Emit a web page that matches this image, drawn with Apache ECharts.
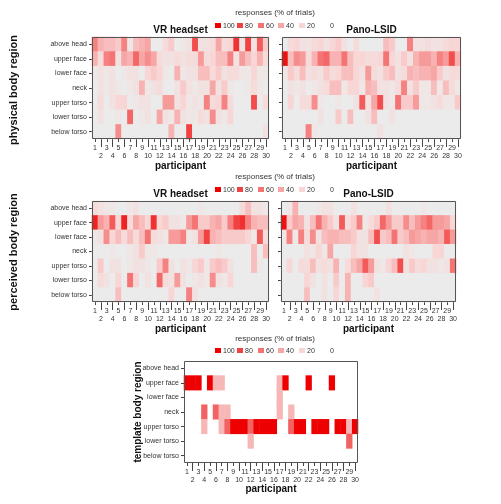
<!DOCTYPE html>
<html><head><meta charset="utf-8">
<script src="https://cdn.jsdelivr.net/npm/echarts@6/dist/echarts.min.js"></script>
<style>html,body{margin:0;padding:0;background:#fff}#c{width:501px;height:504px}</style>
</head><body><div id="c"></div>
<script>
const participants = ['1','2','3','4','5','6','7','8','9','10','11','12','13','14','15','16','17','18','19','20','21','22','23','24','25','26','27','28','29','30'];
const regions = ['above head','upper face','lower face','neck','upper torso','lower torso','below torso'];
const legendValues = [100,80,60,40,20,0];
const panelTitles = ['VR headset','Pano-LSID','VR headset','Pano-LSID'];
const yTitles = ['physical body region','perceived body region','template body region'];
const xTitle = 'participant';
const legendTitle = 'responses (% of trials)';

// physical body region, VR headset (rows: above head .. below torso, cols: participants 1..30)
const physVR = [
 [55,35,30,30,25,55,5,30,35,40,0,0,15,25,0,5,10,75,10,10,15,40,15,20,85,10,80,10,70,25],
 [35,15,55,60,10,40,35,65,40,50,40,15,10,10,15,10,15,15,45,15,20,30,30,55,10,45,30,20,35,15],
 [5,10,5,10,0,5,10,10,0,20,25,20,5,0,35,5,10,10,30,30,15,25,10,15,15,5,5,20,5,5],
 [0,10,5,10,5,0,5,10,35,5,10,15,0,0,10,25,10,5,10,10,40,10,25,5,0,0,5,15,5,0],
 [0,15,0,10,20,20,0,5,10,10,0,0,45,45,10,20,5,10,5,55,15,20,55,15,0,0,0,75,0,15],
 [0,10,0,0,5,0,65,0,5,10,0,40,10,5,35,10,5,5,15,10,50,10,5,20,0,0,0,0,0,0],
 [0,0,0,0,50,0,0,0,0,0,0,0,0,35,0,0,80,0,0,0,0,0,0,0,0,0,0,0,0,10]
];
// physical body region, Pano-LSID
const physPano = [
 [0,15,20,10,10,15,20,10,20,25,10,0,15,0,0,0,0,30,25,0,0,55,10,10,15,10,10,15,20,20],
 [95,30,50,45,15,35,60,65,35,35,60,30,20,20,15,15,20,60,20,10,25,10,35,45,45,35,55,45,75,35],
 [5,25,15,30,10,15,10,25,15,20,30,30,20,10,45,15,10,25,30,10,15,35,30,35,35,40,25,10,15,15],
 [0,10,5,10,0,5,10,15,30,30,5,20,20,5,35,30,10,10,5,15,55,10,25,5,5,30,5,30,15,5],
 [0,20,0,15,15,50,5,0,0,5,0,0,10,70,10,40,75,10,5,60,25,25,45,5,5,10,15,5,5,25],
 [0,0,0,0,0,0,10,0,0,25,0,30,0,0,10,30,0,0,10,0,0,0,0,0,0,0,0,0,0,0],
 [0,0,0,0,55,5,0,0,0,0,0,0,0,0,0,0,10,0,0,0,0,0,0,0,0,0,0,0,0,0]
];
// perceived body region, VR headset
const percVR = [
 [15,10,5,5,0,0,5,10,0,0,0,0,0,0,0,0,0,0,5,0,0,0,0,0,0,15,30,10,10,5],
 [90,45,35,70,20,90,15,40,30,20,85,20,25,10,10,5,45,60,25,25,35,40,25,55,80,85,55,35,30,30],
 [5,10,50,20,30,15,30,15,30,60,15,10,5,45,45,55,5,10,45,80,35,30,25,25,25,25,20,5,70,15],
 [0,0,0,5,0,0,5,10,25,5,5,0,0,0,0,0,0,0,0,0,0,5,0,0,0,0,0,30,0,30],
 [0,25,0,10,10,0,5,10,10,5,0,25,55,10,0,10,5,20,25,5,25,30,25,10,0,0,0,30,5,0],
 [0,15,10,0,20,0,60,20,0,10,0,65,15,10,45,10,0,5,10,5,50,10,5,20,0,0,0,0,0,0],
 [0,0,0,0,30,0,0,0,0,0,0,0,0,20,0,0,55,10,0,0,0,0,0,0,0,0,0,0,0,0]
];
// perceived body region, Pano-LSID
const percPano = [
 [0,5,35,0,0,0,5,10,10,0,0,0,10,0,0,0,0,0,10,0,0,0,0,0,5,0,0,0,0,0],
 [95,25,40,35,10,30,60,35,25,10,70,15,25,55,5,15,25,65,45,25,25,50,30,45,55,65,45,45,40,20],
 [5,55,5,55,15,50,10,30,35,35,30,30,25,10,10,30,75,25,30,60,25,30,45,40,35,40,40,35,70,45],
 [0,0,0,0,10,5,20,5,40,0,0,0,20,10,10,0,0,0,0,0,0,10,5,0,0,0,20,20,0,0],
 [0,20,0,15,15,30,10,15,10,35,0,15,30,40,70,45,10,5,20,30,75,10,25,15,20,10,10,5,10,60],
 [0,0,0,0,20,10,0,10,0,25,0,35,0,0,20,25,0,0,0,0,0,0,0,0,0,0,0,0,0,0],
 [0,0,0,0,30,0,0,10,0,20,0,35,0,0,0,0,10,0,0,0,0,0,0,0,0,0,0,0,0,0]
];
// template body region
const template = [
 [0,0,0,0,0,0,0,0,0,0,0,0,0,0,0,0,0,0,0,0,0,0,0,0,0,0,0,0,0,0],
 [100,100,100,0,100,33,33,0,0,0,0,0,0,0,0,0,33,100,0,0,0,100,0,0,0,100,0,0,0,0],
 [0,0,0,0,0,0,0,0,0,0,0,0,0,0,0,0,33,0,0,0,0,0,0,0,0,0,0,0,0,0],
 [0,0,0,67,0,67,33,33,0,0,0,0,0,0,0,0,33,0,33,0,0,0,0,0,0,0,0,0,0,0],
 [0,0,0,33,0,0,33,67,100,100,100,67,100,100,100,100,0,0,67,100,100,0,100,100,100,0,100,100,33,100],
 [0,0,0,0,0,0,0,0,0,0,0,33,0,0,0,0,0,0,0,0,0,0,0,0,0,0,0,0,67,0],
 [0,0,0,0,0,0,0,0,0,0,0,0,0,0,0,0,0,0,0,0,0,0,0,0,0,0,0,0,0,0]
];

const FONT = '"Liberation Sans", Arial, sans-serif';
const scaleColors = ['#ebebeb','#f9d6d6','#f7a6a6','#f47474','#f14141','#ee0000'];
const swatchColors = ['#ee0000','#f14141','#f47474','#f7a6a6','#f9d6d6',null];
const layouts = [
  {left:92, top:37, width:177, height:102, bg:'#ebebeb'},
  {left:282, top:37, width:179, height:102, bg:'#ebebeb'},
  {left:92, top:201, width:177, height:101, bg:'#ebebeb'},
  {left:281, top:201, width:175, height:101, bg:'#ebebeb'},
  {left:184, top:361, width:174, height:102, bg:'#ffffff'}
];
const panels = [
  {data:physVR, ylab:true, skipZero:false},
  {data:physPano, ylab:false, skipZero:false},
  {data:percVR, ylab:true, skipZero:false},
  {data:percPano, ylab:false, skipZero:false},
  {data:template, ylab:true, skipZero:true}
];

const grid=[], xAxis=[], yAxis=[], series=[], graphic=[];
panels.forEach((p,i)=>{
  const L = layouts[i];
  grid.push({left:L.left, top:L.top, width:L.width, height:L.height, show:true, backgroundColor:L.bg, borderWidth:0});
  xAxis.push({gridIndex:i, type:'category', position:'bottom', offset:0, data:participants, axisLine:{show:false},
    axisTick:{show:true, alignWithLabel:true, interval:0, length:3, lineStyle:{color:'#444', width:1}},
    axisLabel:{interval:0, fontSize:7, color:'#333', fontFamily:FONT, margin:5, lineHeight:8,
      formatter:(v,idx)=> idx%2===0 ? v : '\n'+v},
    splitLine:{show:false}});
  xAxis.push({gridIndex:i, type:'category', position:'bottom', offset:0, data:participants, axisLine:{show:false},
    axisTick:{show:true, alignWithLabel:true, interval:(idx)=> idx%2===1, length:8, lineStyle:{color:'#444', width:1}},
    axisLabel:{show:false}, splitLine:{show:false}});
  yAxis.push({gridIndex:i, type:'category', data:regions, inverse:true, axisLine:{show:false},
    axisTick:{show:true, alignWithLabel:true, length:3, lineStyle:{color:'#444', width:1}},
    axisLabel:{show:p.ylab, fontSize:7, color:'#333', margin:5, fontFamily:FONT},
    splitLine:{show:false}});
  const d=[];
  p.data.forEach((row,r)=>row.forEach((v,c)=>{ if(p.skipZero && v===0) return; d.push([c,r,v]); }));
  series.push({type:'heatmap', xAxisIndex:2*i, yAxisIndex:i, data:d, emphasis:{disabled:true}, itemStyle:{borderWidth:0}});
  graphic.push({type:'rect', silent:true, z:100, shape:{x:L.left+0.5, y:L.top+0.5, width:L.width-1, height:L.height-1},
    style:{fill:null, stroke:'#555', lineWidth:1}});
  graphic.push({type:'text', silent:true, z:100, x:L.left+L.width/2, y:(i===4? 489 : L.top+L.height+27),
    style:{text:xTitle, font:'bold 10px '+FONT, fill:'#111', textAlign:'center', textVerticalAlign:'middle'}});
  if(i<4){
    graphic.push({type:'text', silent:true, z:100, x:L.left+L.width/2, y:L.top-7,
      style:{text:panelTitles[i], font:'bold 10px '+FONT, fill:'#111', textAlign:'center', textVerticalAlign:'middle'}});
  }
});
// y titles
[[14,90,11],[14,252,11],[138,412,10]].forEach((pos,k)=>{
  graphic.push({type:'text', silent:true, z:100, x:pos[0], y:pos[1], rotation:Math.PI/2,
    style:{text:yTitles[k], font:'bold '+pos[2]+'px '+FONT, fill:'#111', textAlign:'center', textVerticalAlign:'middle'}});
});
// legends
const swX = [215,237,258,278,299,322];
[[13,26],[177,190],[339,351]].forEach(([ty,iy])=>{
  graphic.push({type:'text', silent:true, z:100, x:275, y:ty,
    style:{text:legendTitle, font:'8px '+FONT, fill:'#333', textAlign:'center', textVerticalAlign:'middle'}});
  legendValues.forEach((v,k)=>{
    if(swatchColors[k]) graphic.push({type:'rect', silent:true, z:100, shape:{x:swX[k], y:iy-3, width:6, height:5}, style:{fill:swatchColors[k]}});
    graphic.push({type:'text', silent:true, z:100, x:swX[k]+8, y:iy,
      style:{text:String(v), font:'7px '+FONT, fill:'#333', textAlign:'left', textVerticalAlign:'middle'}});
  });
});

const chart = echarts.init(document.getElementById('c'));
chart.setOption({
  animation:false,
  grid, xAxis, yAxis, series, graphic,
  visualMap:{show:false, type:'continuous', min:0, max:100, seriesIndex:[0,1,2,3,4], inRange:{color:scaleColors}}
});
</script></body></html>
